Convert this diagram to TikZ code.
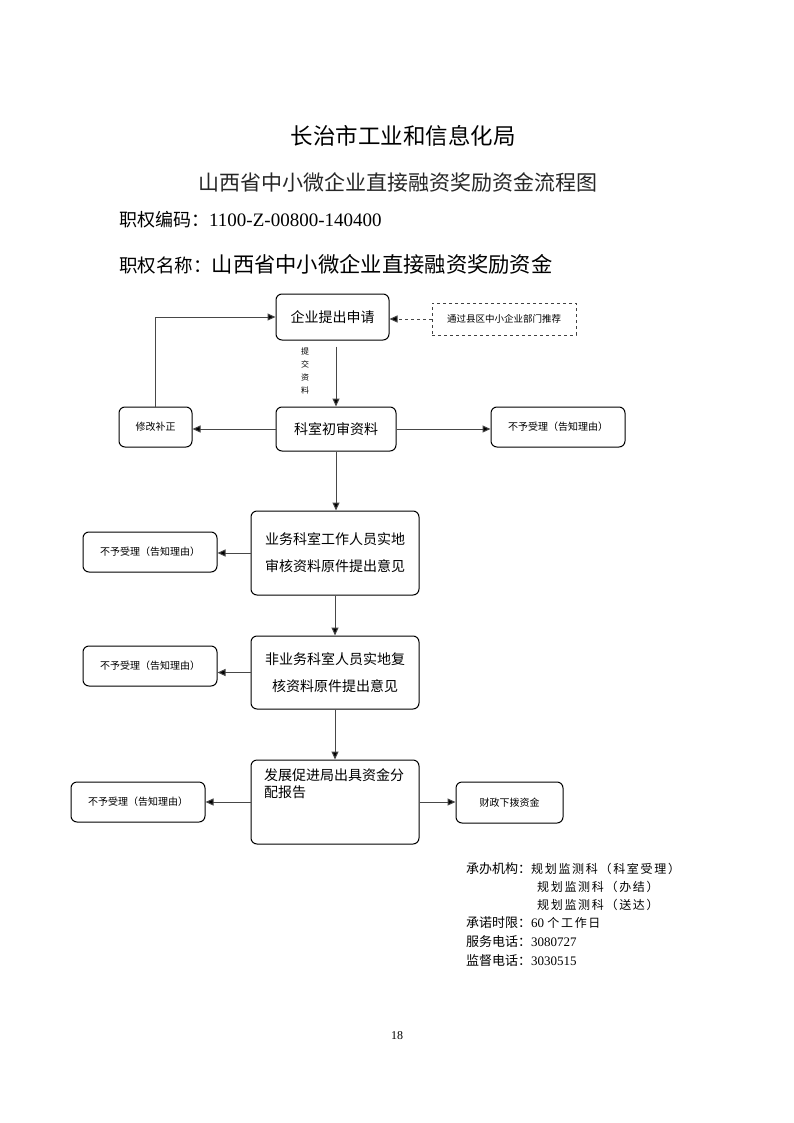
\documentclass[tikz,border=0pt]{standalone}
\usepackage{fontspec}
\setmainfont{Liberation Serif}
\newfontfamily\cjk{Noto Sans CJK SC}
\newfontfamily\cjksp[LetterSpace=14]{Noto Sans CJK SC}
\usetikzlibrary{arrows.meta}
\begin{document}
\begin{tikzpicture}[x=1pt,y=-1pt,
  box/.style={draw=black, rounded corners=6pt, line width=1pt, inner sep=0pt,
    font=\cjk\fontsize{14}{27}\selectfont, align=center},
  sbox/.style={box, font=\cjk\fontsize{10}{12}\selectfont},
  conn/.style={draw=black!72, line width=1pt, -{Triangle[length=8pt,width=7pt,fill=black]}},
  head/.style={inner sep=0pt, anchor=west},
  info/.style={inner sep=0pt, anchor=west, font=\fontsize{13}{15}\selectfont}]
\useasboundingbox (0,0) rectangle (794,1123);

% headings
\node[inner sep=0pt, font=\cjk\fontsize{22.5}{24}\selectfont] (t1) at (403,136) {长治市工业和信息化局};
\node[inner sep=0pt, font=\cjk\fontsize{21}{24}\selectfont, text=black!85] (t2) at (398,182) {山西省中小微企业直接融资奖励资金流程图};
\node[head] (t3) at (119,220) {{\cjk\fontsize{18}{20}\selectfont 职权编码：}{\fontsize{19}{20}\selectfont 1100-Z-00800-140400}};
\node[head] (t4) at (119,264) {{\cjk\fontsize{18.5}{22}\selectfont 职权名称：}{\cjk\fontsize{21.3}{22}\selectfont 山西省中小微企业直接融资奖励资金}};

% boxes
\node[box, minimum width=113pt, minimum height=46pt] (A) at (332.5,317) {企业提出申请};
\node[draw=black!75, dashed, line width=1pt, inner sep=0pt, minimum width=144pt, minimum height=32pt,
      font=\cjk\fontsize{9.5}{12}\selectfont] (R) at (504,319) {通过县区中小企业部门推荐};
\node[box, minimum width=120pt, minimum height=44pt] (B) at (336,429) {科室初审资料};
\node[sbox, minimum width=73pt, minimum height=40pt] (C) at (155.5,427) {修改补正};
\node[sbox, minimum width=134pt, minimum height=40pt] (D) at (558,427) {不予受理（告知理由）};
\node[box, minimum width=168pt, minimum height=84pt] (E) at (335,553) {业务科室工作人员实地\\审核资料原件提出意见};
\node[sbox, minimum width=134pt, minimum height=40pt] (F1) at (150,552) {不予受理（告知理由）};
\node[box, minimum width=168pt, minimum height=73pt] (G) at (335,672.5) {非业务科室人员实地复\\核资料原件提出意见};
\node[sbox, minimum width=134pt, minimum height=40pt] (F2) at (150,666) {不予受理（告知理由）};
\node[box, minimum width=168pt, minimum height=84pt] (H) at (335,802) {};
\node[inner sep=0pt, anchor=north west, align=left, font=\cjk\fontsize{14}{17}\selectfont] (Ht) at (264,768) {发展促进局出具资金分\\配报告};
\node[sbox, minimum width=134pt, minimum height=40pt] (F3) at (138,802) {不予受理（告知理由）};
\node[sbox, minimum width=107pt, minimum height=41pt] (I) at (509.5,802.5) {财政下拨资金};

% label
\node[inner sep=0pt, align=center, font=\cjk\fontsize{8}{13}\selectfont] (lab) at (305,371) {提\\交\\资\\料};

% connectors
\draw[conn, dashed] (R.west) -- (A.east |- R.west);
\draw[conn] (B.north |- A.south) ++(0,6) -- (B.north);
\draw[conn] (C.north) |- (A.west);
\draw[conn] (B.west) -- (C.east |- B.west);
\draw[conn] (B.east) -- (D.west |- B.east);
\draw[conn] (B.south) -- (B.south |- E.north);
\draw[conn] (E.west) -- (F1.east |- E.west);
\draw[conn] (E.south) -- (E.south |- G.north);
\draw[conn] (G.west) -- (F2.east |- G.west);
\draw[conn] (G.south) -- (G.south |- H.north);
\draw[conn] (H.west) -- (F3.east |- H.west);
\draw[conn] (H.east) -- (I.west |- H.east);

% bottom info
\node[info] (i1) at (466,869) {{\cjk 承办机构：}{\cjksp\fontsize{12}{15}\selectfont 规划监测科（科室受理）}};
\node[info] (i2) at (537,887) {{\cjksp\fontsize{12}{15}\selectfont 规划监测科（办结）}};
\node[info] (i3) at (537,905) {{\cjksp\fontsize{12}{15}\selectfont 规划监测科（送达）}};
\node[info] (i4) at (466,923) {{\cjk 承诺时限：}60 {\cjksp\fontsize{12}{15}\selectfont 个工作日}};
\node[info] (i5) at (466,942) {{\cjk 服务电话：}3080727};
\node[info] (i6) at (466,961) {{\cjk 监督电话：}3030515};

\node[inner sep=0pt, font=\fontsize{12}{14}\selectfont] (pg) at (397,1036) {18};
\end{tikzpicture}
\end{document}
